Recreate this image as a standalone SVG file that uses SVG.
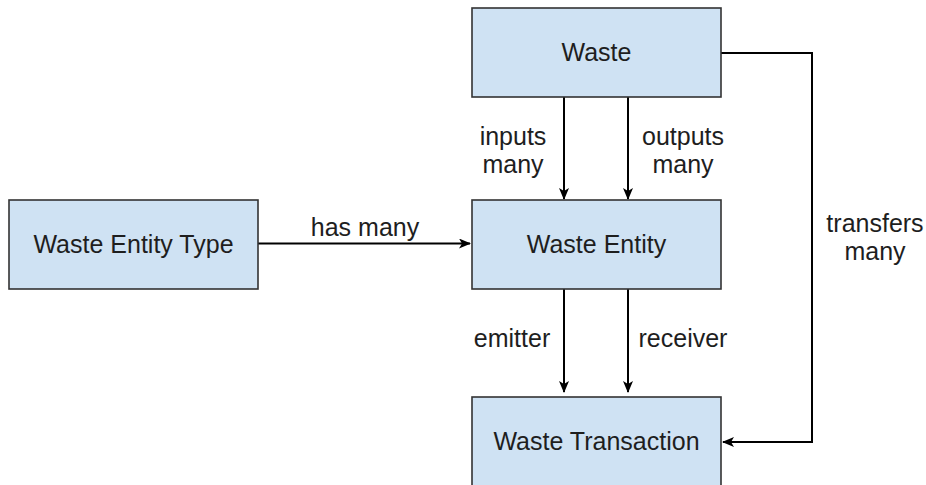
<svg xmlns="http://www.w3.org/2000/svg" width="926" height="485" viewBox="0 0 926 485">
<style>
.box{fill:#cfe2f3;stroke:#333;stroke-width:1.6}
.t{font-family:"Liberation Sans",Arial,sans-serif;font-size:25px;fill:#1e1e1e;text-anchor:middle}
.l{font-family:"Liberation Sans",Arial,sans-serif;font-size:25px;fill:#1e1e1e;text-anchor:middle}
.c{fill:none;stroke:#000;stroke-width:2}
</style>
<defs>
<marker id="ah" viewBox="0 0 12 10" refX="11" refY="5" markerWidth="12" markerHeight="10" markerUnits="userSpaceOnUse" orient="auto">
<path d="M0,0 L12,5 L0,10 L3,5 z" fill="#000"/>
</marker>
</defs>
<rect width="926" height="485" fill="#fff"/>
<g id="connectors">
<line class="c" x1="258" y1="243.5" x2="470" y2="243.5" marker-end="url(#ah)"/>
<line class="c" x1="564" y1="97" x2="564" y2="199" marker-end="url(#ah)"/>
<line class="c" x1="628" y1="97" x2="628" y2="199" marker-end="url(#ah)"/>
<line class="c" x1="564" y1="289" x2="564" y2="392" marker-end="url(#ah)"/>
<line class="c" x1="628" y1="289" x2="628" y2="392" marker-end="url(#ah)"/>
<polyline class="c" points="721,53 812,53 812,442 723,442" marker-end="url(#ah)"/>
<text class="l" x="365" y="236">has many</text>
<text class="l" x="513" y="145">inputs</text>
<text class="l" x="513" y="173">many</text>
<text class="l" x="683" y="145">outputs</text>
<text class="l" x="683" y="173">many</text>
<text class="l" x="512" y="347">emitter</text>
<text class="l" x="683" y="347">receiver</text>
<text class="l" x="875" y="232">transfers</text>
<text class="l" x="875" y="260">many</text>
</g>
<g id="waste">
<rect class="box" x="472" y="8" width="249" height="89"/>
<text class="t" x="596.5" y="61">Waste</text>
</g>
<g id="waste-entity-type">
<rect class="box" x="9" y="200" width="249" height="89"/>
<text class="t" x="133.5" y="253">Waste Entity Type</text>
</g>
<g id="waste-entity">
<rect class="box" x="472" y="200" width="249" height="89"/>
<text class="t" x="596.5" y="253">Waste Entity</text>
</g>
<g id="waste-transaction">
<rect class="box" x="472" y="397" width="249" height="89"/>
<text class="t" x="596.5" y="450">Waste Transaction</text>
</g>
</svg>
